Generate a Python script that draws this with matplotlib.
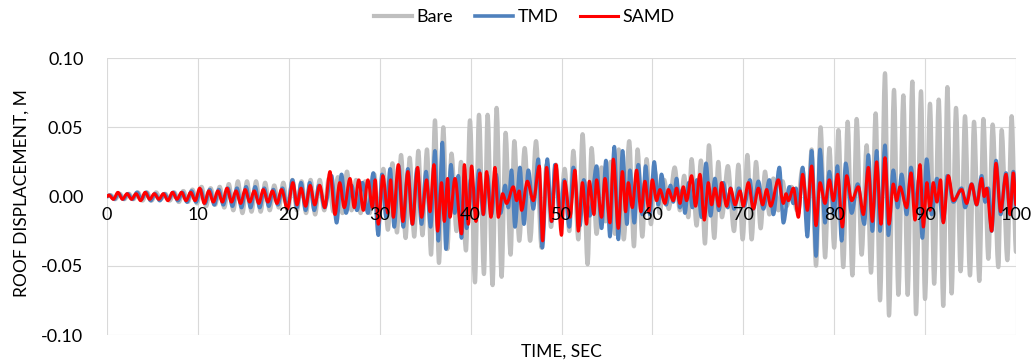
import numpy as np
import matplotlib.pyplot as plt
from matplotlib.path import Path
from matplotlib.patches import PathPatch
from matplotlib.lines import Line2D

plt.rcParams['font.family'] = ['Lato', 'DejaVu Sans']

# Roof displacement as (time [s], displacement [m]) extrema
bare = [
    (0.0, 0.0), (0.4, 0.001), (0.9, -0.002), (1.4, 0.002), (1.9, -0.002), (2.4, 0.002), (2.9, -0.002),
    (3.4, 0.003), (3.9, -0.003), (4.4, 0.003), (4.9, -0.003), (5.4, 0.003), (5.9, -0.002),
    (6.4, 0.002), (6.9, -0.003), (7.4, 0.003), (7.9, -0.004), (8.4, 0.004), (8.9, -0.004),
    (9.4, 0.005), (9.9, -0.005), (10.4, 0.007), (10.9, -0.007), (11.4, 0.006), (11.9, -0.006),
    (12.4, 0.007), (12.9, -0.008), (13.4, 0.009), (13.9, -0.010), (14.4, 0.011), (14.9, -0.012),
    (15.4, 0.011), (15.9, -0.011), (16.4, 0.011), (16.9, -0.011), (17.4, 0.010), (17.9, -0.010),
    (18.4, 0.008), (18.9, -0.008), (19.4, 0.010), (19.9, -0.011), (20.4, 0.012), (20.9, -0.010),
    (21.4, 0.011), (21.9, -0.012), (22.4, 0.012), (22.9, -0.013), (23.4, 0.012), (23.9, -0.010),
    (24.4, 0.013), (24.9, -0.011), (25.4, 0.014), (25.9, -0.012), (26.4, 0.018), (26.9, -0.010),
    (27.4, 0.012), (27.9, -0.012), (28.4, 0.011), (28.9, -0.012), (29.4, 0.016), (29.9, -0.018),
    (30.4, 0.020), (30.9, -0.024), (31.4, 0.024), (31.9, -0.026), (32.35, 0.030), (32.85, -0.030),
    (33.3, 0.028), (33.8, -0.029), (34.25, 0.033), (34.7, -0.028), (35.2, 0.034), (35.65, -0.042),
    (36.08, 0.055), (36.52, -0.048), (37.0, 0.050), (37.44, -0.038), (37.9, 0.031), (38.45, -0.025),
    (38.95, 0.025), (39.49, -0.039), (39.93, 0.055), (40.48, -0.062), (40.92, 0.059), (41.47, -0.056),
    (41.87, 0.059), (42.42, -0.064), (42.86, 0.064), (43.41, -0.058), (43.85, 0.046), (44.4, -0.042),
    (44.81, 0.040), (45.35, -0.032), (45.95, 0.035), (46.55, -0.032), (47.2, 0.040), (47.81, -0.037),
    (48.36, 0.023), (48.85, -0.022), (49.39, 0.023), (49.83, -0.015), (50.35, 0.020), (50.86, -0.025),
    (51.3, 0.033), (51.85, -0.031), (52.32, 0.045), (52.87, -0.049), (53.31, 0.035), (53.86, -0.027),
    (54.41, 0.021), (54.85, -0.018), (55.4, 0.025), (55.88, -0.027), (56.3, 0.034), (56.85, -0.031),
    (57.45, 0.040), (57.97, -0.036), (58.37, 0.034), (58.89, -0.029), (59.36, 0.027), (59.84, -0.020),
    (60.28, 0.018), (60.8, -0.012), (61.3, 0.012), (61.8, -0.009), (62.45, 0.021), (63.03, -0.010),
    (63.5, 0.015), (63.95, -0.015), (64.31, 0.027), (64.86, -0.021), (65.34, 0.026), (65.78, -0.034),
    (66.22, 0.037), (66.81, -0.030), (67.25, 0.025), (67.65, -0.015), (68.3, 0.022), (68.98, -0.025),
    (69.46, 0.023), (69.93, -0.031), (70.45, 0.030), (70.92, -0.031), (71.4, 0.025), (71.91, -0.023),
    (72.39, 0.018), (72.87, -0.013), (73.31, 0.013), (73.86, -0.010), (74.33, 0.011), (74.77, -0.007),
    (75.3, 0.007), (75.9, -0.010), (76.5, 0.020), (77.05, -0.015), (77.52, 0.034), (78.0, -0.050),
    (78.51, 0.050), (79.0, -0.044), (79.47, 0.035), (80.0, -0.037), (80.46, 0.048), (81.0, -0.051),
    (81.48, 0.054), (82.0, -0.057), (82.47, 0.056), (83.02, -0.042), (83.57, 0.037), (84.05, -0.055),
    (84.56, 0.060), (85.04, -0.075), (85.59, 0.089), (86.03, -0.086), (86.58, 0.077), (87.06, -0.071),
    (87.61, 0.073), (88.08, -0.071), (88.6, 0.083), (89.0, -0.085), (89.55, 0.076), (89.99, -0.074),
    (90.54, 0.067), (91.0, -0.063), (91.5, 0.070), (92.0, -0.079), (92.45, 0.079), (92.92, -0.070),
    (93.4, 0.064), (93.91, -0.054), (94.39, 0.058), (94.94, -0.057), (95.38, 0.054), (95.97, -0.061),
    (96.41, 0.056), (96.96, -0.045), (97.43, 0.052), (98.06, -0.051), (98.42, 0.048), (99.05, -0.046),
    (99.52, 0.058), (100.0, -0.040),
]

tmd = [
    (0.0, 0.0), (0.3, 0.001), (0.8, -0.002), (1.3, 0.002), (1.8, -0.002), (2.3, 0.002), (2.8, -0.002),
    (3.3, 0.003), (3.8, -0.002), (4.3, 0.003), (4.8, -0.003), (5.3, 0.002), (5.8, -0.003),
    (6.3, 0.002), (6.8, -0.002), (7.3, 0.003), (7.8, -0.003), (8.3, 0.003), (8.8, -0.004),
    (9.3, 0.004), (9.8, -0.004), (10.3, 0.005), (10.8, -0.005), (11.3, 0.005), (11.8, -0.006),
    (12.3, 0.005), (12.8, -0.006), (13.3, 0.006), (13.8, -0.007), (14.3, 0.006), (14.8, -0.008),
    (15.3, 0.007), (15.8, -0.008), (16.3, 0.007), (16.8, -0.008), (17.3, 0.006), (17.8, -0.007),
    (18.3, 0.005), (18.8, -0.006), (19.3, 0.006), (19.85, -0.009), (20.4, 0.012), (20.9, -0.008),
    (21.35, 0.010), (21.85, -0.010), (22.3, 0.010), (22.8, -0.010), (23.3, 0.008), (23.95, -0.008),
    (24.7, 0.015), (25.26, -0.019), (25.8, 0.016), (26.3, -0.012), (26.9, 0.008), (27.5, -0.010),
    (28.1, 0.010), (28.7, -0.012), (29.3, 0.017), (29.85, -0.028), (30.25, 0.016), (30.7, -0.015),
    (31.15, 0.020), (31.6, -0.022), (32.1, 0.022), (32.6, -0.022), (33.1, 0.020), (33.6, -0.020),
    (34.1, 0.020), (34.6, -0.020), (35.1, 0.018), (35.6, -0.022), (36.08, 0.033), (36.45, -0.032),
    (36.89, 0.039), (37.29, -0.038), (37.84, 0.023), (38.25, -0.012), (38.65, 0.015), (39.0, -0.030),
    (39.3, 0.005), (39.56, -0.023), (40.0, 0.012), (40.45, -0.010), (40.92, 0.019), (41.4, -0.013),
    (41.85, 0.015), (42.3, -0.013), (42.8, 0.016), (43.3, -0.012), (43.8, 0.008), (44.15, -0.008),
    (44.5, 0.019), (44.88, -0.022), (45.43, 0.021), (45.87, -0.020), (46.35, 0.019), (46.9, -0.009),
    (47.45, 0.027), (47.89, -0.037), (48.44, 0.027), (48.9, -0.018), (49.28, 0.023), (49.83, -0.015),
    (50.3, 0.012), (50.86, -0.022), (51.3, 0.021), (52.03, -0.021), (52.45, 0.012), (53.1, -0.014),
    (53.86, 0.022), (54.41, -0.023), (54.89, 0.026), (55.33, -0.029), (55.81, 0.036), (56.25, -0.031),
    (56.72, 0.033), (57.2, -0.020), (57.53, 0.019), (58.01, -0.019), (58.45, 0.023), (58.89, -0.013),
    (59.25, 0.022), (59.73, -0.013), (60.2, 0.025), (60.65, -0.006), (61.0, 0.016), (61.5, -0.006),
    (62.0, 0.008), (62.3, -0.004), (62.66, 0.013), (63.03, -0.008), (63.3, 0.005), (63.58, -0.012),
    (64.0, 0.010), (64.4, -0.008), (64.9, 0.012), (65.4, -0.015), (65.9, 0.024), (66.4, -0.014),
    (66.88, 0.013), (67.3, -0.010), (67.8, 0.010), (68.3, -0.008), (68.6, 0.006), (68.98, -0.009),
    (69.5, 0.006), (70.1, -0.007), (70.74, 0.012), (71.1, -0.009), (71.66, 0.011), (72.21, -0.009),
    (72.87, 0.012), (73.31, -0.013), (73.97, 0.021), (74.41, -0.019), (75.07, 0.007), (75.5, -0.005),
    (75.8, 0.006), (76.06, -0.012), (76.53, 0.021), (77.05, -0.029), (77.52, 0.033), (78.0, -0.043),
    (78.44, 0.034), (78.99, -0.019), (79.47, 0.018), (80.0, -0.013), (80.35, 0.022), (80.82, -0.032),
    (81.26, 0.024), (81.92, -0.012), (82.58, 0.009), (83.32, -0.020), (83.76, 0.030), (84.2, -0.025),
    (84.67, 0.033), (85.04, -0.025), (85.59, 0.037), (85.96, -0.028), (86.5, 0.019), (86.98, -0.008),
    (87.42, 0.016), (87.97, -0.013), (88.45, 0.021), (89.0, -0.010), (89.3, 0.012), (89.7, -0.030),
    (90.17, 0.027), (90.72, -0.013), (91.3, 0.013), (92.0, -0.018), (92.45, 0.015), (93.11, -0.004),
    (94.02, 0.006), (94.39, -0.008), (95.12, 0.009), (95.67, -0.006), (96.22, 0.015), (96.6, -0.004),
    (96.95, 0.006), (97.32, -0.025), (97.8, 0.026), (98.31, -0.013), (98.9, 0.017), (99.34, -0.013),
    (99.71, 0.018), (100.0, -0.008),
]

samd = [
    (0.0, 0.0), (0.2, 0.001), (0.7, -0.002), (1.2, 0.003), (1.7, -0.002), (2.2, 0.002), (2.7, -0.002),
    (3.2, 0.002), (3.7, -0.003), (4.2, 0.003), (4.7, -0.002), (5.2, 0.002), (5.7, -0.002),
    (6.2, 0.002), (6.7, -0.003), (7.2, 0.003), (7.7, -0.002), (8.2, 0.003), (8.7, -0.003),
    (9.2, 0.003), (9.7, -0.003), (10.2, 0.006), (10.7, -0.005), (11.2, 0.004), (11.7, -0.004),
    (12.2, 0.004), (12.7, -0.004), (13.2, 0.006), (13.7, -0.004), (14.2, 0.004), (14.7, -0.005),
    (15.2, 0.005), (15.7, -0.004), (16.2, 0.004), (16.7, -0.005), (17.2, 0.005), (17.7, -0.004),
    (18.2, 0.004), (18.7, -0.005), (19.2, 0.005), (19.85, -0.009), (20.45, 0.010), (20.9, -0.006),
    (21.35, 0.006), (21.85, -0.007), (22.35, 0.008), (22.85, -0.006), (23.4, 0.008), (23.95, -0.008),
    (24.53, 0.018), (25.08, -0.013), (25.6, 0.010), (26.1, -0.008), (26.73, 0.013), (27.2, -0.008),
    (27.7, 0.012), (28.2, -0.010), (28.7, 0.012), (29.2, -0.008), (29.5, 0.012), (29.85, -0.020),
    (30.35, 0.015), (30.9, -0.012), (31.2, 0.012), (31.5, -0.015), (32.05, 0.023), (32.55, -0.018),
    (33.1, 0.018), (33.6, -0.020), (34.17, 0.021), (34.61, -0.015), (35.16, 0.012), (35.53, -0.011),
    (35.97, 0.023), (36.37, -0.025), (36.8, 0.010), (37.11, -0.018), (37.47, 0.013), (37.73, -0.015),
    (38.28, 0.013), (39.01, -0.027), (39.31, 0.023), (39.75, -0.020), (40.11, 0.022), (40.59, -0.018),
    (41.03, 0.017), (41.4, -0.013), (41.76, 0.018), (42.24, -0.015), (42.68, 0.021), (43.05, -0.015),
    (43.52, 0.002), (43.96, -0.005), (44.7, 0.007), (45.06, -0.003), (45.35, 0.004), (45.61, -0.010),
    (46.24, 0.011), (46.9, -0.003), (47.56, 0.022), (47.92, -0.032), (48.36, 0.021), (48.91, -0.018),
    (49.39, 0.023), (50.0, -0.028), (50.35, 0.011), (50.93, -0.015), (51.48, 0.019), (51.85, -0.025),
    (52.3, 0.010), (52.76, -0.020), (53.06, 0.011), (53.57, -0.013), (53.86, 0.012), (54.41, -0.015),
    (54.78, 0.013), (55.33, -0.019), (55.7, 0.027), (56.25, -0.023), (56.7, 0.018), (57.05, -0.011),
    (57.35, 0.010), (57.79, -0.008), (58.26, 0.019), (58.74, -0.011), (59.18, 0.011), (59.62, -0.011),
    (59.99, 0.012), (60.46, -0.003), (60.83, 0.005), (61.38, -0.005), (61.75, 0.005), (62.3, -0.003),
    (62.66, 0.006), (63.03, -0.005), (63.4, 0.007), (63.76, -0.003), (64.31, 0.015), (64.75, -0.007),
    (65.23, 0.016), (65.71, -0.017), (66.15, 0.010), (66.51, -0.006), (66.88, 0.006), (67.32, -0.007),
    (67.61, 0.010), (68.16, -0.007), (68.6, 0.006), (69.09, -0.006), (69.64, 0.004), (70.0, -0.007),
    (70.56, 0.010), (71.1, -0.009), (71.66, 0.006), (72.13, -0.006), (72.57, 0.005), (73.01, -0.007),
    (73.86, 0.012), (74.41, -0.005), (74.7, 0.002), (74.96, -0.003), (75.51, 0.006), (76.06, -0.015),
    (76.53, 0.016), (77.05, -0.010), (77.52, 0.022), (78.0, -0.021), (78.44, 0.010), (78.99, -0.005),
    (79.47, 0.012), (79.91, -0.003), (80.38, 0.016), (80.9, -0.022), (81.37, 0.015), (81.92, -0.003),
    (82.66, 0.007), (83.21, -0.013), (83.76, 0.021), (84.2, -0.018), (84.67, 0.025), (85.15, -0.020),
    (85.59, 0.028), (86.03, -0.020), (86.5, 0.009), (86.87, -0.003), (87.24, 0.007), (87.97, -0.008),
    (88.45, 0.017), (88.89, -0.017), (89.44, 0.023), (89.81, -0.022), (90.2, 0.010), (90.54, -0.010),
    (90.9, 0.010), (91.3, -0.004), (91.7, 0.012), (92.0, -0.019), (92.56, 0.015), (93.11, -0.003),
    (94.02, 0.005), (94.57, -0.005), (95.12, 0.009), (95.67, -0.006), (96.22, 0.013), (96.5, 0.000),
    (96.77, 0.006), (97.32, -0.025), (97.8, 0.024), (98.31, -0.011), (98.9, 0.016), (99.34, -0.013),
    (99.71, 0.017), (100.0, -0.006),
]

series_names = ['Bare', 'TMD', 'SAMD']
series_colors = ['#BFBFBF', '#4F81BD', '#FF0000']
series_widths = [3.0, 2.6, 2.2]
xticks = [0, 10, 20, 30, 40, 50, 60, 70, 80, 90, 100]
yticks = [-0.10, -0.05, 0.00, 0.05, 0.10]


def smooth_path(data):
    # cubic bezier between neighbouring extrema, flat at each extremum
    arr = np.array(data)
    verts = [tuple(arr[0])]
    codes = [Path.MOVETO]
    for (t0, v0), (t1, v1) in zip(arr[:-1], arr[1:]):
        dt = (t1 - t0) / 3.0
        verts += [(t0 + dt, v0), (t1 - dt, v1), (t1, v1)]
        codes += [Path.CURVE4] * 3
    return Path(verts, codes)


fig = plt.figure(figsize=(10.32, 3.64), dpi=100)
ax = fig.add_axes([107 / 1032, 29 / 364, 909 / 1032, 277 / 364])

handles = []
for data, name, col, lw in zip([bare, tmd, samd], series_names, series_colors, series_widths):
    ax.add_patch(PathPatch(smooth_path(data), facecolor='none', edgecolor=col, lw=lw,
                           joinstyle='round', capstyle='round', zorder=3))
    handles.append(Line2D([], [], color=col, lw=lw, label=name))

ax.set_xlim(0, 100)
ax.set_ylim(-0.1, 0.1)
ax.set_xticks(xticks)
ax.set_yticks(yticks)
ax.set_yticklabels(['%.2f' % v for v in yticks])
ax.tick_params(axis='both', length=0, labelsize=13, colors='#000000')
ax.tick_params(axis='y', pad=17)
ax.tick_params(axis='x', labelbottom=False)
ax.grid(True, color='#d9d9d9', lw=0.8, zorder=0)
ax.set_axisbelow(True)
for s in ax.spines.values():
    s.set_visible(False)

# x tick labels sit right under the zero line, over the traces
for t in xticks:
    ax.annotate(str(t), xy=(t, 0), xytext=(0, -13), textcoords='offset points',
                ha='center', va='center', fontsize=13, zorder=6, annotation_clip=False)

fig.text(561 / 1032, 1 - 352 / 364, 'TIME, SEC', ha='center', va='center', fontsize=12.5)
fig.text(22 / 1032, 1 - 193 / 364, 'ROOF DISPLACEMENT, M', ha='center', va='center',
         rotation=90, fontsize=12.5)

fig.legend(handles=handles, loc='center', bbox_to_anchor=(0.508, 1 - 17 / 364), ncol=3,
           frameon=False, fontsize=13, handlelength=2.1, handletextpad=0.25, columnspacing=1.2)

fig.savefig('out.png', dpi=100)
